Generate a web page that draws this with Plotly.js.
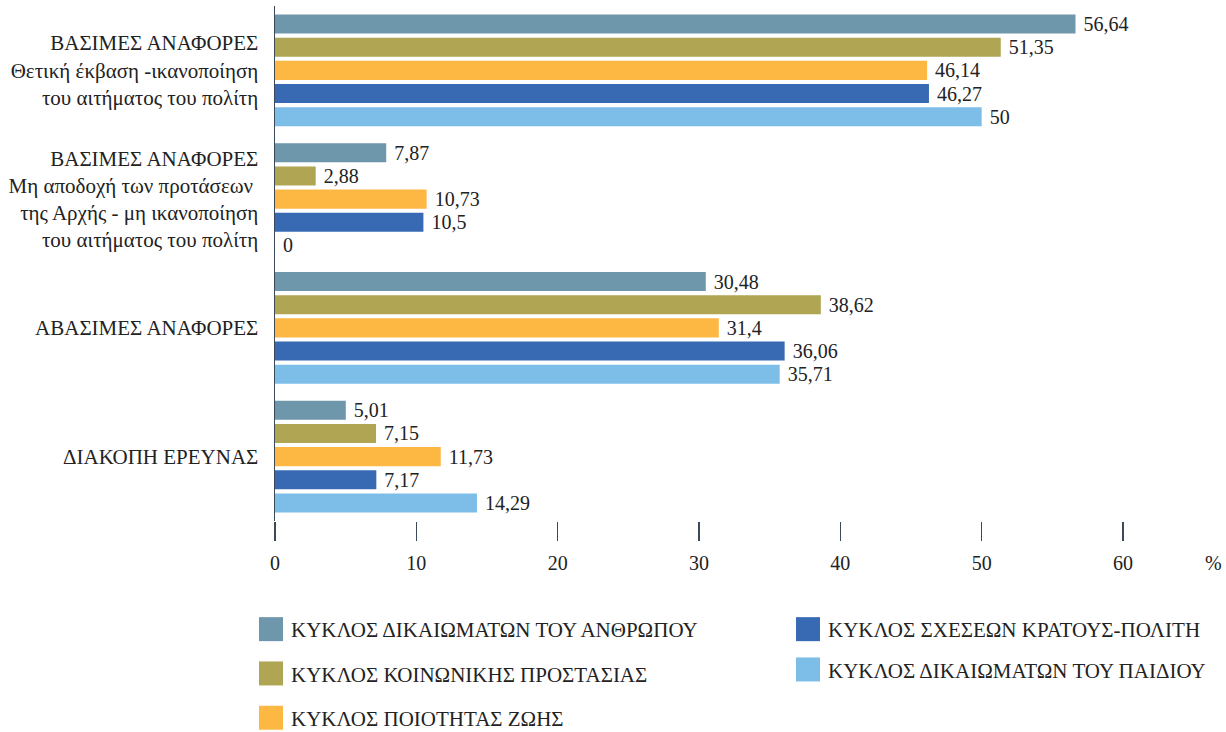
<!DOCTYPE html>
<html>
<head>
<meta charset="utf-8">
<script src="https://cdn.plot.ly/plotly-3.0.1.min.js"></script>
<style>
html,body{margin:0;padding:0;background:#fff;}
#chart{width:1226px;height:732px;}
</style>
</head>
<body>
<div id="chart"></div>
<script>
const categories = [
  "ΒΑΣΙΜΕΣ ΑΝΑΦΟΡΕΣ<br>Θετική έκβαση -ικανοποίηση<br>του αιτήματος του πολίτη",
  "ΒΑΣΙΜΕΣ ΑΝΑΦΟΡΕΣ<br>Μη αποδοχή των προτάσεων <br>της Αρχής - μη ικανοποίηση<br>του αιτήματος του πολίτη",
  "ΑΒΑΣΙΜΕΣ ΑΝΑΦΟΡΕΣ",
  "ΔΙΑΚΟΠΗ ΕΡΕΥΝΑΣ"
];
const seriesNames = [
  "ΚΥΚΛΟΣ ΔΙΚΑΙΩΜΑΤΩΝ ΤΟΥ ΑΝΘΡΩΠΟΥ",
  "ΚΥΚΛΟΣ ΚΟΙΝΩΝΙΚΗΣ ΠΡΟΣΤΑΣΙΑΣ",
  "ΚΥΚΛΟΣ ΠΟΙΟΤΗΤΑΣ ΖΩΗΣ",
  "ΚΥΚΛΟΣ ΣΧΕΣΕΩΝ ΚΡΑΤΟΥΣ-ΠΟΛΙΤΗ",
  "ΚΥΚΛΟΣ ΔΙΚΑΙΩΜΑΤΩΝ ΤΟΥ ΠΑΙΔΙΟΥ"
];
const humanRights = [56.64, 7.87, 30.48, 5.01];
const socialProtection = [51.35, 2.88, 38.62, 7.15];
const qualityOfLife = [46.14, 10.73, 31.4, 11.73];
const stateCitizen = [46.27, 10.5, 36.06, 7.17];
const childRights = [50, 0, 35.71, 14.29];
const tickValues = [0, 10, 20, 30, 40, 50, 60];
const axisUnit = "%";

const seriesValues = [humanRights, socialProtection, qualityOfLife, stateCitizen, childRights];
const colors = ["#6E97AB", "#AFA553", "#FDB844", "#3869B3", "#7DBEE8"];
const legendFor = ["legend", "legend", "legend", "legend2", "legend2"];
const fontFamily = "Liberation Serif";

const traces = seriesValues.map((vals, i) => ({
  type: "bar",
  orientation: "h",
  name: seriesNames[i],
  y: categories,
  x: vals,
  text: vals.map(v => " " + String(v).replace(".", ",")),
  textposition: "outside",
  constraintext: "none",
  cliponaxis: false,
  textfont: {family: fontFamily, size: 20, color: "#222"},
  marker: {color: colors[i]},
  legend: legendFor[i],
  legendgroup: "g" + i,
  hoverinfo: "x+name"
}));

const layout = {
  width: 1226,
  height: 732,
  margin: {l: 275, r: 103, t: 6, b: 211, autoexpand: false},
  paper_bgcolor: "#fff",
  plot_bgcolor: "#fff",
  font: {family: fontFamily, size: 20, color: "#222"},
  barmode: "group",
  bargap: 0.1,
  bargroupgap: 0.18,
  separators: ",.",
  showlegend: true,
  xaxis: {
    range: [0, 60],
    tickvals: tickValues,
    ticks: "outside",
    ticklen: 19,
    tickwidth: 1.5,
    tickcolor: "#3a4a5a",
    ticklabelstandoff: 5,
    showgrid: false,
    zeroline: false,
    showline: false,
    automargin: false,
    tickfont: {family: fontFamily, size: 20, color: "#222"},
    fixedrange: true
  },
  yaxis: {
    autorange: "reversed",
    showline: true,
    linecolor: "#3a4a5a",
    linewidth: 1.5,
    ticks: "",
    ticklabelstandoff: 11,
    showgrid: false,
    automargin: false,
    tickfont: {family: fontFamily, size: 21, color: "#222"},
    fixedrange: true
  },
  legend: {
    orientation: "v",
    x: (251 - 275) / 848,
    xanchor: "left",
    y: -(609 - 521) / 515,
    yanchor: "top",
    tracegroupgap: 14,
    font: {family: fontFamily, size: 21, color: "#222"},
    bgcolor: "rgba(0,0,0,0)"
  },
  legend2: {
    orientation: "v",
    x: (788 - 275) / 848,
    xanchor: "left",
    y: -(609 - 521) / 515,
    yanchor: "top",
    tracegroupgap: 10,
    font: {family: fontFamily, size: 21, color: "#222"},
    bgcolor: "rgba(0,0,0,0)"
  },
  annotations: [{
    text: axisUnit,
    xref: "paper", yref: "paper",
    x: (1213 - 275) / 848, y: -(563 - 521) / 515,
    xanchor: "center", yanchor: "middle",
    showarrow: false,
    font: {family: fontFamily, size: 20, color: "#222"}
  }]
};

Plotly.newPlot("chart", traces, layout, {displayModeBar: false, staticPlot: true}).then(gd => {
  // enlarge the legend colour swatches to match the reference's square keys
  gd.querySelectorAll("g.legendpoints path").forEach(p => {
    p.setAttribute("d", "M12,12H-12V-12H12Z");
  });
});
</script>
</body>
</html>
